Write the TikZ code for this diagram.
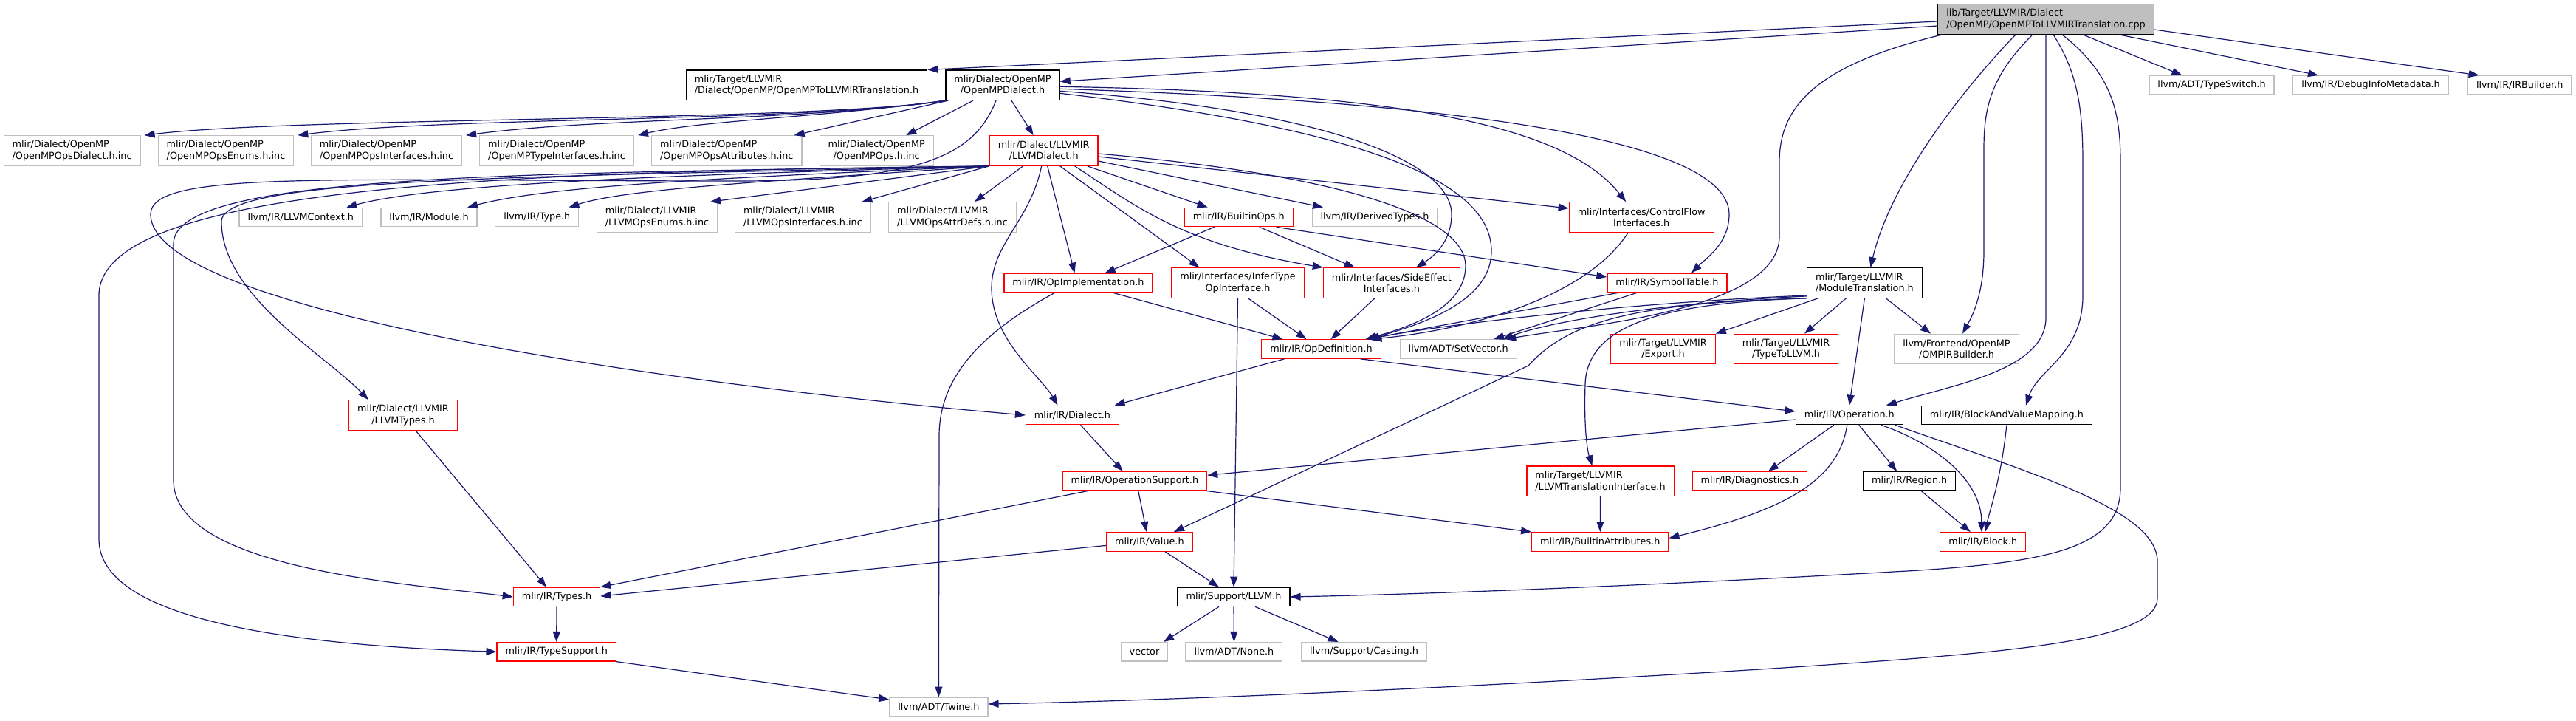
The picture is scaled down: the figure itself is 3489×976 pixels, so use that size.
\documentclass[tikz,border=0pt]{standalone}
\usepackage{fontspec}
\setmainfont{DejaVu Sans}
\usetikzlibrary{arrows.meta}
\definecolor{doxedge}{HTML}{191970}
\definecolor{doxgray}{HTML}{BFBFBF}
\definecolor{doxred}{HTML}{FF0000}
\tikzset{
  hdr/.style={draw=black,line width=1.2pt,fill=white,text=black,inner xsep=11.5pt,inner ysep=1pt,
    minimum height=25.5pt,font=\fontsize{12.8}{15.3}\selectfont},
  hdrgray/.style={hdr,draw=doxgray},
  hdrred/.style={hdr,draw=doxred},
  tworow/.style={minimum height=40.5pt,align=center},
  leftrow/.style={minimum height=40.5pt,align=left},
  dep/.style={draw=doxedge,line width=1.2pt,-{Triangle[length=14pt,width=10pt]}}
}

\begin{document}
\begin{tikzpicture}[x=1pt,y=-1pt]
  \useasboundingbox (0,0) rectangle (3489,976);
  % rang 1
  \node[hdr,fill=doxgray,leftrow] (root) at (2771,26) {lib/Target/LLVMIR/Dialect\\/OpenMP/OpenMPToLLVMIRTranslation.cpp};
  % rang 2
  \node[hdr,leftrow] (omptrans) at (1092.5,115.3) {mlir/Target/LLVMIR\\/Dialect/OpenMP/OpenMPToLLVMIRTranslation.h};
  \node[hdr,tworow] (ompdialect) at (1358,115.3) {mlir/Dialect/OpenMP\\/OpenMPDialect.h};
  \node[hdrgray] (typeswitch) at (2995.5,115.3) {llvm/ADT/TypeSwitch.h};
  \node[hdrgray] (debuginfo) at (3211,115.3) {llvm/IR/DebugInfoMetadata.h};
  \node[hdrgray] (irbuilder) at (3412.7,115.3) {llvm/IR/IRBuilder.h};
  % rang 3
  \node[hdrgray,leftrow] (opsdialectinc) at (97.6,204) {mlir/Dialect/OpenMP\\/OpenMPOpsDialect.h.inc};
  \node[hdrgray,leftrow] (opsenumsinc) at (306,204) {mlir/Dialect/OpenMP\\/OpenMPOpsEnums.h.inc};
  \node[hdrgray,leftrow] (opsifaceinc) at (523.5,204) {mlir/Dialect/OpenMP\\/OpenMPOpsInterfaces.h.inc};
  \node[hdrgray,leftrow] (typeifaceinc) at (754,204) {mlir/Dialect/OpenMP\\/OpenMPTypeInterfaces.h.inc};
  \node[hdrgray,leftrow] (opsattrinc) at (984.3,204) {mlir/Dialect/OpenMP\\/OpenMPOpsAttributes.h.inc};
  \node[hdrgray,tworow] (opsinc) at (1187.2,204) {mlir/Dialect/OpenMP\\/OpenMPOps.h.inc};
  \node[hdrred,tworow] (llvmdialect) at (1413.7,204) {mlir/Dialect/LLVMIR\\/LLVMDialect.h};
  % rang 4
  \node[hdrgray] (llvmcontext) at (407.3,294) {llvm/IR/LLVMContext.h};
  \node[hdrgray] (llvmmodule) at (581,294) {llvm/IR/Module.h};
  \node[hdrgray] (llvmtype) at (727.3,294) {llvm/IR/Type.h};
  \node[hdrgray,leftrow] (llvmenumsinc) at (890,294) {mlir/Dialect/LLVMIR\\/LLVMOpsEnums.h.inc};
  \node[hdrgray,leftrow] (llvmifaceinc) at (1087.4,294) {mlir/Dialect/LLVMIR\\/LLVMOpsInterfaces.h.inc};
  \node[hdrgray,leftrow] (llvmattrinc) at (1290,294) {mlir/Dialect/LLVMIR\\/LLVMOpsAttrDefs.h.inc};
  \node[hdrred] (builtinops) at (1677.7,294) {mlir/IR/BuiltinOps.h};
  \node[hdrgray] (derivedtypes) at (1862,294) {llvm/IR/DerivedTypes.h};
  \node[hdrred,tworow] (controlflow) at (2223.2,294) {mlir/Interfaces/ControlFlow\\Interfaces.h};
  % rang 5
  \node[hdrred] (opimpl) at (1460.5,383) {mlir/IR/OpImplementation.h};
  \node[hdrred,tworow] (infertype) at (1676.5,383) {mlir/Interfaces/InferType\\OpInterface.h};
  \node[hdrred,tworow] (sideeffect) at (1884.9,383) {mlir/Interfaces/SideEffect\\Interfaces.h};
  \node[hdrred] (symboltable) at (2258,383) {mlir/IR/SymbolTable.h};
  \node[hdr,leftrow] (moduletrans) at (2525.4,383) {mlir/Target/LLVMIR\\/ModuleTranslation.h};
  % rang 6
  \node[hdrred] (opdef) at (1789.5,472.5) {mlir/IR/OpDefinition.h};
  \node[hdrgray] (setvector) at (1975.2,472.5) {llvm/ADT/SetVector.h};
  \node[hdrred,tworow] (export) at (2252.5,472.5) {mlir/Target/LLVMIR\\/Export.h};
  \node[hdrred,tworow] (typetollvm) at (2419,472.5) {mlir/Target/LLVMIR\\/TypeToLLVM.h};
  \node[hdrgray,tworow] (ompirbuilder) at (2650,472.5) {llvm/Frontend/OpenMP\\/OMPIRBuilder.h};
  % rang 7
  \node[hdrred,tworow] (llvmtypes) at (546,562) {mlir/Dialect/LLVMIR\\/LLVMTypes.h};
  \node[hdrred] (dialect) at (1452.5,562) {mlir/IR/Dialect.h};
  \node[hdr] (operation) at (2504.8,562) {mlir/IR/Operation.h};
  \node[hdr] (bavm) at (2717.9,562) {mlir/IR/BlockAndValueMapping.h};
  % rang 8
  \node[hdrred] (opsupport) at (1536.8,651.3) {mlir/IR/OperationSupport.h};
  \node[hdrred,leftrow] (llvmtransiface) at (2167.5,651.3) {mlir/Target/LLVMIR\\/LLVMTranslationInterface.h};
  \node[hdrred] (diagnostics) at (2370,651.3) {mlir/IR/Diagnostics.h};
  \node[hdr] (region) at (2586.2,651.3) {mlir/IR/Region.h};
  % rang 9
  \node[hdrred] (value) at (1556.9,733.4) {mlir/IR/Value.h};
  \node[hdrred] (builtinattr) at (2167.3,733.4) {mlir/IR/BuiltinAttributes.h};
  \node[hdrred] (block) at (2685.8,733.4) {mlir/IR/Block.h};
  % rang 10
  \node[hdrred] (types) at (754,808) {mlir/IR/Types.h};
  \node[hdr] (llvmh) at (1671,808) {mlir/Support/LLVM.h};
  % rang 11
  \node[hdrred] (typesupport) at (753.7,882.3) {mlir/IR/TypeSupport.h};
  \node[hdrgray] (vector) at (1550,882.3) {vector};
  \node[hdrgray] (none) at (1671.4,882.3) {llvm/ADT/None.h};
  \node[hdrgray] (casting) at (1847.5,882.3) {llvm/Support/Casting.h};
  % rang 12
  \node[hdrgray] (twine) at (1271.4,957) {llvm/ADT/Twine.h};

  % depuis le .cpp
  \draw[dep] ([yshift=-3]root.west) -- (omptrans.north east);
  \draw[dep] ([yshift=-9]root.west) -- ([yshift=5]ompdialect.east);
  \draw[dep] ([xshift=50]root.south) -- ([xshift=-40]typeswitch.north);
  \draw[dep] ([xshift=99]root.south) -- ([xshift=-71]debuginfo.north);
  \draw[dep] ([yshift=-14]root.east) -- ([xshift=-55]irbuilder.north);
  \draw[dep] ([xshift=-140]root.south) .. controls (2450,90) and (2410,150) .. (2410,220) -- (2410,320)
    .. controls (2410,420) and (2150,440) .. ([xshift=64]setvector.north);
  \draw[dep] ([xshift=-41]root.south) .. controls (2650,130) and (2560,250) .. ([xshift=8]moduletrans.north);
  \draw[dep] ([xshift=-18]root.south) .. controls (2700,100) and (2687,140) .. (2687,200) -- (2687,340)
    .. controls (2687,400) and (2670,430) .. ([xshift=8]ompirbuilder.north);
  \draw[dep] (root.south) -- (2771,430) .. controls (2771,500) and (2650,520) .. ([xshift=50]operation.north);
  \draw[dep] ([xshift=10]root.south) .. controls (2815,100) and (2821,150) .. (2821,220) -- (2821,400)
    .. controls (2821,480) and (2760,500) .. ([xshift=26]bavm.north);
  \draw[dep] ([xshift=22]root.south) .. controls (2860,100) and (2872,150) .. (2872,220) -- (2872,660)
    .. controls (2872,740) and (2780,760) .. (2600,772) .. controls (2200,795) and (1900,805) .. (llvmh.east);

  % OpenMPDialect.h
  \draw[dep] (ompdialect.south west) .. controls (1100,165) and (400,158) .. ([xshift=5]opsdialectinc.north east);
  \draw[dep] (ompdialect.south west) .. controls (1100,165) and (600,158) .. ([xshift=5]opsenumsinc.north east);
  \draw[dep] (ompdialect.south west) .. controls (1100,163) and (800,160) .. ([xshift=5]opsifaceinc.north east);
  \draw[dep] (ompdialect.south west) .. controls (1100,160) and (950,163) .. ([xshift=5]typeifaceinc.north east);
  \draw[dep] ([xshift=4]ompdialect.south west) -- ([xshift=-11]opsattrinc.north east);
  \draw[dep] ([xshift=-40]ompdialect.south) -- ([xshift=40]opsinc.north);
  \draw[dep] ([xshift=12]ompdialect.south) -- ([xshift=-14]llvmdialect.north);
  \draw[dep] ([xshift=-9]ompdialect.south) .. controls (1320,210) and (1250,245) .. (1000,245)
    .. controls (450,245) and (204,230) .. (204,290) .. controls (204,420) and (900,520) .. (dialect.west);
  \draw[dep] ([yshift=-2]ompdialect.east) .. controls (1900,125) and (2120,170) .. ([xshift=-21]controlflow.north);
  \draw[dep] ([yshift=-5]ompdialect.east) .. controls (2050,140) and (2342,200) .. (2342,290)
    .. controls (2342,330) and (2310,350) .. ([xshift=33]symboltable.north);
  \draw[dep] ([yshift=-8]ompdialect.east) .. controls (1800,150) and (1966,220) .. (1966,290)
    .. controls (1966,325) and (1945,345) .. ([xshift=33]sideeffect.north);
  \draw[dep] ([yshift=-11]ompdialect.east) .. controls (1900,180) and (2020,260) .. (2020,340)
    .. controls (2020,410) and (1920,440) .. ([xshift=65]opdef.north);

  % LLVMDialect.h
  \draw[dep] (llvmdialect.south west) .. controls (1000,235) and (600,245) .. ([xshift=62]llvmcontext.north);
  \draw[dep] (llvmdialect.south west) .. controls (1000,240) and (750,250) .. ([xshift=52]llvmmodule.north);
  \draw[dep] (llvmdialect.south west) .. controls (1050,245) and (850,255) .. ([xshift=43]llvmtype.north);
  \draw[dep] (llvmdialect.south west) -- ([xshift=72]llvmenumsinc.north);
  \draw[dep] (llvmdialect.south west) -- ([xshift=80]llvmifaceinc.north);
  \draw[dep] ([xshift=-28]llvmdialect.south) -- ([xshift=30]llvmattrinc.north);
  \draw[dep] (llvmdialect.south west) .. controls (700,240) and (300,240) .. (300,300)
    .. controls (300,400) and (440,480) .. ([xshift=-47]llvmtypes.north);
  \draw[dep] (llvmdialect.south west) .. controls (700,235) and (235,235) .. (235,330) -- (235,650)
    .. controls (235,770) and (550,790) .. (types.west);
  \draw[dep] (llvmdialect.south west) .. controls (700,232) and (134,250) .. (134,400) -- (134,730)
    .. controls (134,850) and (450,875) .. (typesupport.west);
  \draw[dep] ([xshift=59]llvmdialect.south) -- ([xshift=-42]builtinops.north);
  \draw[dep] ([yshift=-14]llvmdialect.east) -- ([xshift=-70]derivedtypes.north);
  \draw[dep] ([yshift=-8]llvmdialect.east) -- ([yshift=12]controlflow.west);
  \draw[dep] ([yshift=-4]llvmdialect.east) .. controls (1850,240) and (1985,300) .. (1985,360)
    .. controls (1985,420) and (1900,445) .. ([xshift=60]opdef.north);
  \draw[dep] ([xshift=42]llvmdialect.south) .. controls (1540,280) and (1600,330) .. (sideeffect.north west);
  \draw[dep] ([xshift=22]llvmdialect.south) -- ([xshift=-52]infertype.north);
  \draw[dep] ([xshift=5]llvmdialect.south) -- ([xshift=-5]opimpl.north);
  \draw[dep] ([xshift=-3]llvmdialect.south) .. controls (1395,300) and (1343,330) .. (1343,390)
    .. controls (1343,460) and (1410,510) .. ([xshift=-20]dialect.north);

  % interfaces et IR
  \draw[dep] ([xshift=-33]builtinops.south) -- ([xshift=36]opimpl.north);
  \draw[dep] ([xshift=28]builtinops.south) -- ([xshift=-50]sideeffect.north);
  \draw[dep] ([xshift=51]builtinops.south) -- ([yshift=8]symboltable.west);
  \draw[dep] ([xshift=-18]controlflow.south) .. controls (2150,400) and (2000,445) .. ([xshift=68]opdef.north);
  \draw[dep] ([xshift=14]infertype.south) -- ([xshift=-20]opdef.north);
  \draw[dep] (infertype.south) -- (llvmh.north);
  \draw[dep] ([xshift=-23]sideeffect.south) -- ([xshift=13]opdef.north);
  \draw[dep] ([xshift=47]opimpl.south) -- ([xshift=-52]opdef.north);
  \draw[dep] ([xshift=-32]opimpl.south) .. controls (1330,450) and (1272,510) .. (1272,590) -- (twine.north);
  \draw[dep] ([xshift=-66]symboltable.south) -- ([xshift=62]opdef.north);
  \draw[dep] ([xshift=-41]symboltable.south) -- ([xshift=48]setvector.north);

  % ModuleTranslation.h
  \draw[dep] ([yshift=-17]moduletrans.west) .. controls (2200,410) and (1950,440) .. ([xshift=64]opdef.north);
  \draw[dep] ([yshift=-18]moduletrans.west) .. controls (2250,410) and (2100,435) .. ([xshift=60]setvector.north);
  \draw[dep] ([xshift=-63]moduletrans.south) -- (export.north east);
  \draw[dep] ([xshift=-25]moduletrans.south) -- ([xshift=25]typetollvm.north);
  \draw[dep] ([xshift=29]moduletrans.south) -- ([xshift=-35]ompirbuilder.north);
  \draw[dep] (moduletrans.south) -- (operation.north);
  \draw[dep] (moduletrans.south west) .. controls (2250,410) and (2150,440) .. (2147,520)
    .. controls (2145,580) and (2150,610) .. ([xshift=-11]llvmtransiface.north);
  \draw[dep] (moduletrans.south west) .. controls (2200,410) and (2120,440) .. (2070,495) -- ([xshift=33]value.north);

  % OpDefinition.h, Dialect.h, Operation.h
  \draw[dep] ([xshift=-50]opdef.south) -- ([xshift=57]dialect.north);
  \draw[dep] ([xshift=53]opdef.south) -- ([yshift=5]operation.west);
  \draw[dep] ([xshift=11]dialect.south) -- ([xshift=-16]opsupport.north);
  \draw[dep] ([yshift=-6]operation.west) -- ([yshift=8]opsupport.east);
  \draw[dep] ([xshift=-21]operation.south) -- ([xshift=25]diagnostics.north);
  \draw[dep] ([xshift=13]operation.south) -- ([xshift=-17]region.north);
  \draw[dep] ([xshift=43]operation.south) .. controls (2620,600) and (2684,650) .. ([xshift=-2]block.north);
  \draw[dep] ([xshift=-3]operation.south) .. controls (2490,650) and (2420,690) .. ([yshift=5]builtinattr.east);
  \draw[dep] ([xshift=62]operation.south) .. controls (2750,640) and (2922,690) .. (2922,760) -- (2922,810)
    .. controls (2922,870) and (2700,885) .. (2400,905) .. controls (2000,930) and (1600,948) .. ([yshift=4]twine.east);

  % bas du graphe
  \draw[dep] ([xshift=-64]opsupport.south) -- (types.north east);
  \draw[dep] ([xshift=5]opsupport.south) -- ([xshift=-4]value.north);
  \draw[dep] (opsupport.south east) -- (builtinattr.north west);
  \draw[dep] ([yshift=-5]value.west) -- ([yshift=1]types.east);
  \draw[dep] ([xshift=21]value.south) -- ([xshift=-20]llvmh.north);
  \draw[dep] (llvmtransiface.south) -- (builtinattr.north);
  \draw[dep] ([xshift=16]region.south) -- ([xshift=-17]block.north);
  \draw[dep] (bavm.south) .. controls (2710,650) and (2695,690) .. ([xshift=3]block.north);
  \draw[dep] ([xshift=17]llvmtypes.south) -- ([xshift=-14]types.north);
  \draw[dep] (types.south) -- (typesupport.north);
  \draw[dep] (typesupport.south east) -- ([yshift=10]twine.west);
  \draw[dep] ([xshift=-20]llvmh.south) -- ([xshift=26]vector.north);
  \draw[dep] (llvmh.south) -- (none.north);
  \draw[dep] ([xshift=29]llvmh.south) -- ([xshift=-35]casting.north);
\end{tikzpicture}
\end{document}
